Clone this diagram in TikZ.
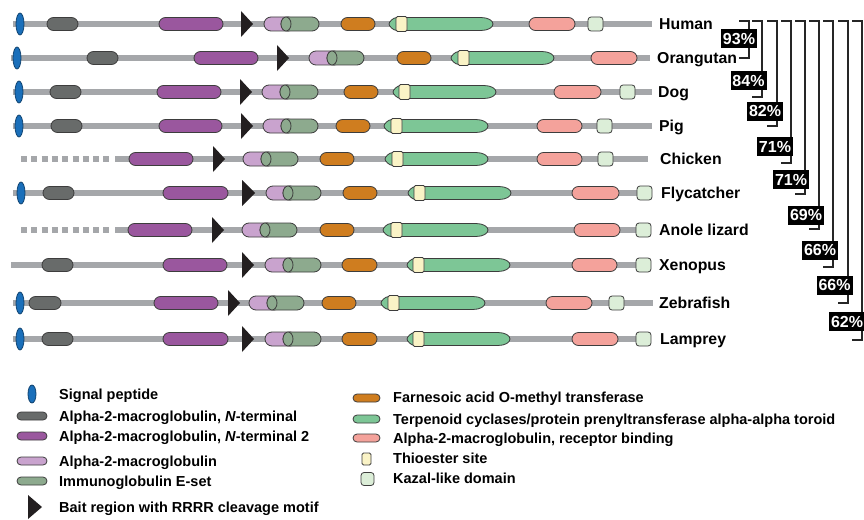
\documentclass[tikz,border=0pt]{standalone}
\usepackage{fontspec}
\setmainfont{Liberation Sans}
\definecolor{cbb}{HTML}{A5A7AA}
\definecolor{csig}{HTML}{1A6FBA}
\definecolor{cdg}{HTML}{686B6A}
\definecolor{cpu}{HTML}{9A579E}
\definecolor{clav}{HTML}{C9A3CE}
\definecolor{cgg}{HTML}{8DAA8E}
\definecolor{cora}{HTML}{CF7D1F}
\definecolor{cgrn}{HTML}{7DC696}
\definecolor{cthio}{HTML}{FAF3C6}
\definecolor{cpnk}{HTML}{F4A29B}
\definecolor{ckaz}{HTML}{DCEED8}
\definecolor{cedge}{HTML}{3D3D3D}
\definecolor{ctri}{HTML}{231F20}
\tikzset{
  bb/.style={draw=cbb,line width=6pt},
  dom/.style={draw=cedge,line width=0.8pt},
  species/.style={anchor=base west,inner sep=0pt,font=\fontsize{15.8}{18}\selectfont\bfseries},
  legtext/.style={anchor=base west,inner sep=0pt,font=\fontsize{14.5}{16}\selectfont\bfseries},
  pct/.style={fill=black,text=white,minimum width=36pt,minimum height=19pt,inner sep=0pt,text height=11.5pt,text depth=0pt,font=\fontsize{16}{17}\selectfont\bfseries},
  brk/.style={draw=black!85,line width=1.2pt}
}
\newcommand\dmBB[3]{\draw[bb] (#1,#3) -- (#2,#3);}
\newcommand\dmDash[1]{\draw[bb,dash pattern=on 6pt off 4.3pt] (21,#1) -- (113,#1);\draw[bb] (115,#1) -- (648,#1);}
\newcommand\dmSig[2]{\draw[dom,fill=csig,draw=csig!60!black] (#1,#2) ellipse [x radius=4pt, y radius=11pt];}
\newcommand\dmPill[4]{\draw[dom,fill=#4,rounded corners=6.5pt] (#1,#3-6.5) rectangle (#2,#3+6.5);}
\newcommand\dmTri[3]{\fill[ctri] (#1,#3-13) -- (#2,#3) -- (#1,#3+13) -- cycle;}
\newcommand\dmLG[4]{%
  \draw[dom,fill=clav,rounded corners=7pt] (#1,#4-7) rectangle (#2+14,#4+7);
  \draw[dom,fill=cgg,rounded corners=7pt] (#2,#4-7) rectangle (#3,#4+7);
  \draw[dom,fill=cgg] (#2+5,#4) ellipse [x radius=5pt,y radius=7pt];}
\newcommand\dmGrn[4]{%
  \draw[dom,fill=cgrn] (#1+8,#4-6.5) -- (#2-12,#4-6.5) .. controls (#2-5,#4-6.5) and (#2,#4-3.5) .. (#2,#4)
   .. controls (#2,#4+3.5) and (#2-5,#4+6.5) .. (#2-12,#4+6.5) -- (#1+8,#4+6.5)
   .. controls (#1+4,#4+6.5) and (#1,#4+2) .. (#1,#4) .. controls (#1,#4-2) and (#1+4,#4-6.5) .. (#1+8,#4-6.5) -- cycle;
  \draw[dom,fill=cthio,rounded corners=1.5pt] (#3,#4-7.5) rectangle (#3+11,#4+7.5);}
\newcommand\dmKaz[2]{\draw[dom,fill=ckaz,rounded corners=3pt] (#1,#2-7) rectangle (#1+15,#2+7);}
\begin{document}
\begin{tikzpicture}[x=1pt,y=-1pt]
\useasboundingbox[fill=white] (0,0) rectangle (864,519);
% Human
\dmBB{13}{652}{24}\dmSig{20}{24}\dmPill{47}{78}{24}{cdg}\dmPill{159}{223}{24}{cpu}\dmTri{241}{253}{24}
\dmLG{264}{281}{319}{24}\dmPill{341}{375}{24}{cora}\dmGrn{389}{493}{396}{24}\dmPill{529}{575}{24}{cpnk}\dmKaz{588}{24}
% Orangutan
\dmBB{11}{650}{58}\dmSig{17}{58}\dmPill{87}{118}{58}{cdg}\dmPill{194}{258}{58}{cpu}\dmTri{277}{289}{58}
\dmLG{309}{327}{364}{58}\dmPill{397}{431}{58}{cora}\dmGrn{451}{554}{458}{58}\dmPill{591}{637}{58}{cpnk}
% Dog
\dmBB{13}{652}{92}\dmSig{19}{92}\dmPill{50}{81}{92}{cdg}\dmPill{157}{221}{92}{cpu}\dmTri{240}{252}{92}
\dmLG{262}{280}{318}{92}\dmPill{344}{378}{92}{cora}\dmGrn{393}{496}{399}{92}\dmPill{554}{601}{92}{cpnk}\dmKaz{620}{92}
% Pig
\dmBB{13}{652}{126}\dmSig{19}{126}\dmPill{51}{82}{126}{cdg}\dmPill{159}{222}{126}{cpu}\dmTri{241}{253}{126}
\dmLG{263}{281}{318}{126}\dmPill{336}{370}{126}{cora}\dmGrn{384}{488}{391}{126}\dmPill{537}{582}{126}{cpnk}\dmKaz{597}{126}
% Chicken
\dmDash{159}\dmPill{129}{193}{159}{cpu}\dmTri{213}{225}{159}
\dmLG{243}{261}{298}{159}\dmPill{320}{354}{159}{cora}\dmGrn{385}{488}{392}{159}\dmPill{537}{582}{159}{cpnk}\dmKaz{598}{159}
% Flycatcher
\dmBB{13}{648}{193}\dmSig{21}{193}\dmPill{43}{74}{193}{cdg}\dmPill{163}{228}{193}{cpu}\dmTri{242}{255}{193}
\dmLG{266}{283}{321}{193}\dmPill{343}{377}{193}{cora}\dmGrn{408}{511}{414}{193}\dmPill{572}{619}{193}{cpnk}\dmKaz{637}{193}
% Anole lizard
\dmDash{230}\dmPill{128}{192}{230}{cpu}\dmTri{212}{224}{230}
\dmLG{242}{260}{297}{230}\dmPill{320}{354}{230}{cora}\dmGrn{383}{488}{391}{230}\dmPill{574}{620}{230}{cpnk}\dmKaz{636}{230}
% Xenopus
\dmBB{11}{648}{265}\dmPill{42}{73}{265}{cdg}\dmPill{163}{227}{265}{cpu}\dmTri{242}{254}{265}
\dmLG{265}{283}{321}{265}\dmPill{342}{377}{265}{cora}\dmGrn{407}{510}{413}{265}\dmPill{572}{617}{265}{cpnk}\dmKaz{636}{265}
% Zebrafish
\dmBB{13}{653}{303}\dmSig{20}{303}\dmPill{29}{61}{303}{cdg}\dmPill{154}{218}{303}{cpu}\dmTri{228}{240}{303}
\dmLG{249}{267}{304}{303}\dmPill{322}{356}{303}{cora}\dmGrn{381}{485}{388}{303}\dmPill{546}{592}{303}{cpnk}\dmKaz{609}{303}
% Lamprey
\dmBB{13}{648}{339}\dmSig{20}{339}\dmPill{42}{73}{339}{cdg}\dmPill{163}{228}{339}{cpu}\dmTri{242}{254}{339}
\dmLG{265}{283}{321}{339}\dmPill{342}{377}{339}{cora}\dmGrn{407}{510}{413}{339}\dmPill{572}{618}{339}{cpnk}\dmKaz{636}{339}
% species labels
\node[species] (lHuman) at (659,24+5.7) {Human};
\node[species] (lOrang) at (657,58+5.7) {Orangutan};
\node[species] (lDog) at (658,92+5.7) {Dog};
\node[species] (lPig) at (659,126+5.7) {Pig};
\node[species] (lChick) at (660,159+5.7) {Chicken};
\node[species] (lFly) at (661,193+5.7) {Flycatcher};
\node[species] (lAnole) at (659,230+5.7) {Anole lizard};
\node[species] (lXen) at (659,265+5.7) {Xenopus};
\node[species] (lZeb) at (659,303+5.7) {Zebrafish};
\node[species] (lLam) at (660,339+5.7) {Lamprey};
% brackets
\foreach \vx/\by in {749/58, 762/97, 777/126, 791/163, 805/194, 819/229, 833/267, 848/303, 862/340}
  \draw[brk] (\vx-10,21) -- (\vx,21) -- (\vx,\by) -- (\vx-10,\by);
% percent boxes
\node[pct] (p1) at (739,38.5) {93\%};
\node[pct] (p2) at (748.5,80.5) {84\%};
\node[pct] (p3) at (765,111) {82\%};
\node[pct] (p4) at (775,146.5) {71\%};
\node[pct] (p5) at (791,179.5) {71\%};
\node[pct] (p6) at (806,215) {69\%};
\node[pct] (p7) at (820,250) {66\%};
\node[pct] (p8) at (834.5,285) {66\%};
\node[pct] (p9) at (847,321.5) {62\%};
% legend left
\draw[dom,fill=csig,draw=csig!60!black] (32,394) ellipse [x radius=4pt,y radius=9pt];
\draw[dom,fill=cdg,rounded corners=4pt] (17,412) rectangle (47,420);
\draw[dom,fill=cpu,rounded corners=4pt] (17,432) rectangle (47,440);
\draw[dom,fill=clav,rounded corners=4pt] (17,457) rectangle (47,465);
\draw[dom,fill=cgg,rounded corners=4pt] (17,477) rectangle (47,485);
\fill[ctri] (28,495) -- (42,507) -- (28,519) -- cycle;
\node[legtext] (t1) at (59,394+5.1) {Signal peptide};
\node[legtext] (t2) at (59,416+5.1) {Alpha-2-macroglobulin, \textit{N}-terminal};
\node[legtext] (t3) at (59,436+5.1) {Alpha-2-macroglobulin, \textit{N}-terminal 2};
\node[legtext] (t4) at (59,461+5.1) {Alpha-2-macroglobulin};
\node[legtext] (t5) at (59,481+5.1) {Immunoglobulin E-set};
\node[legtext] (t6) at (59,507+5.1) {Bait region with RRRR cleavage motif};
% legend right
\draw[dom,fill=cora,rounded corners=4pt] (353,394) rectangle (380,402);
\draw[dom,fill=cgrn,rounded corners=4pt] (353,415) rectangle (380,423);
\draw[dom,fill=cpnk,rounded corners=4pt] (353,434) rectangle (380,442);
\draw[dom,fill=cthio,rounded corners=1.5pt] (362,453) rectangle (371,465);
\draw[dom,fill=ckaz,rounded corners=3pt] (361,472.5) rectangle (374,485.5);
\node[legtext] (r1) at (393,397+5.1) {Farnesoic acid O-methyl transferase};
\node[legtext] (r2) at (393,419+5.1) {Terpenoid cyclases/protein prenyltransferase alpha-alpha toroid};
\node[legtext] (r3) at (393,438+5.1) {Alpha-2-macroglobulin, receptor binding};
\node[legtext] (r4) at (393,458+5.1) {Thioester site};
\node[legtext] (r5) at (393,478+5.1) {Kazal-like domain};
\end{tikzpicture}
\end{document}
